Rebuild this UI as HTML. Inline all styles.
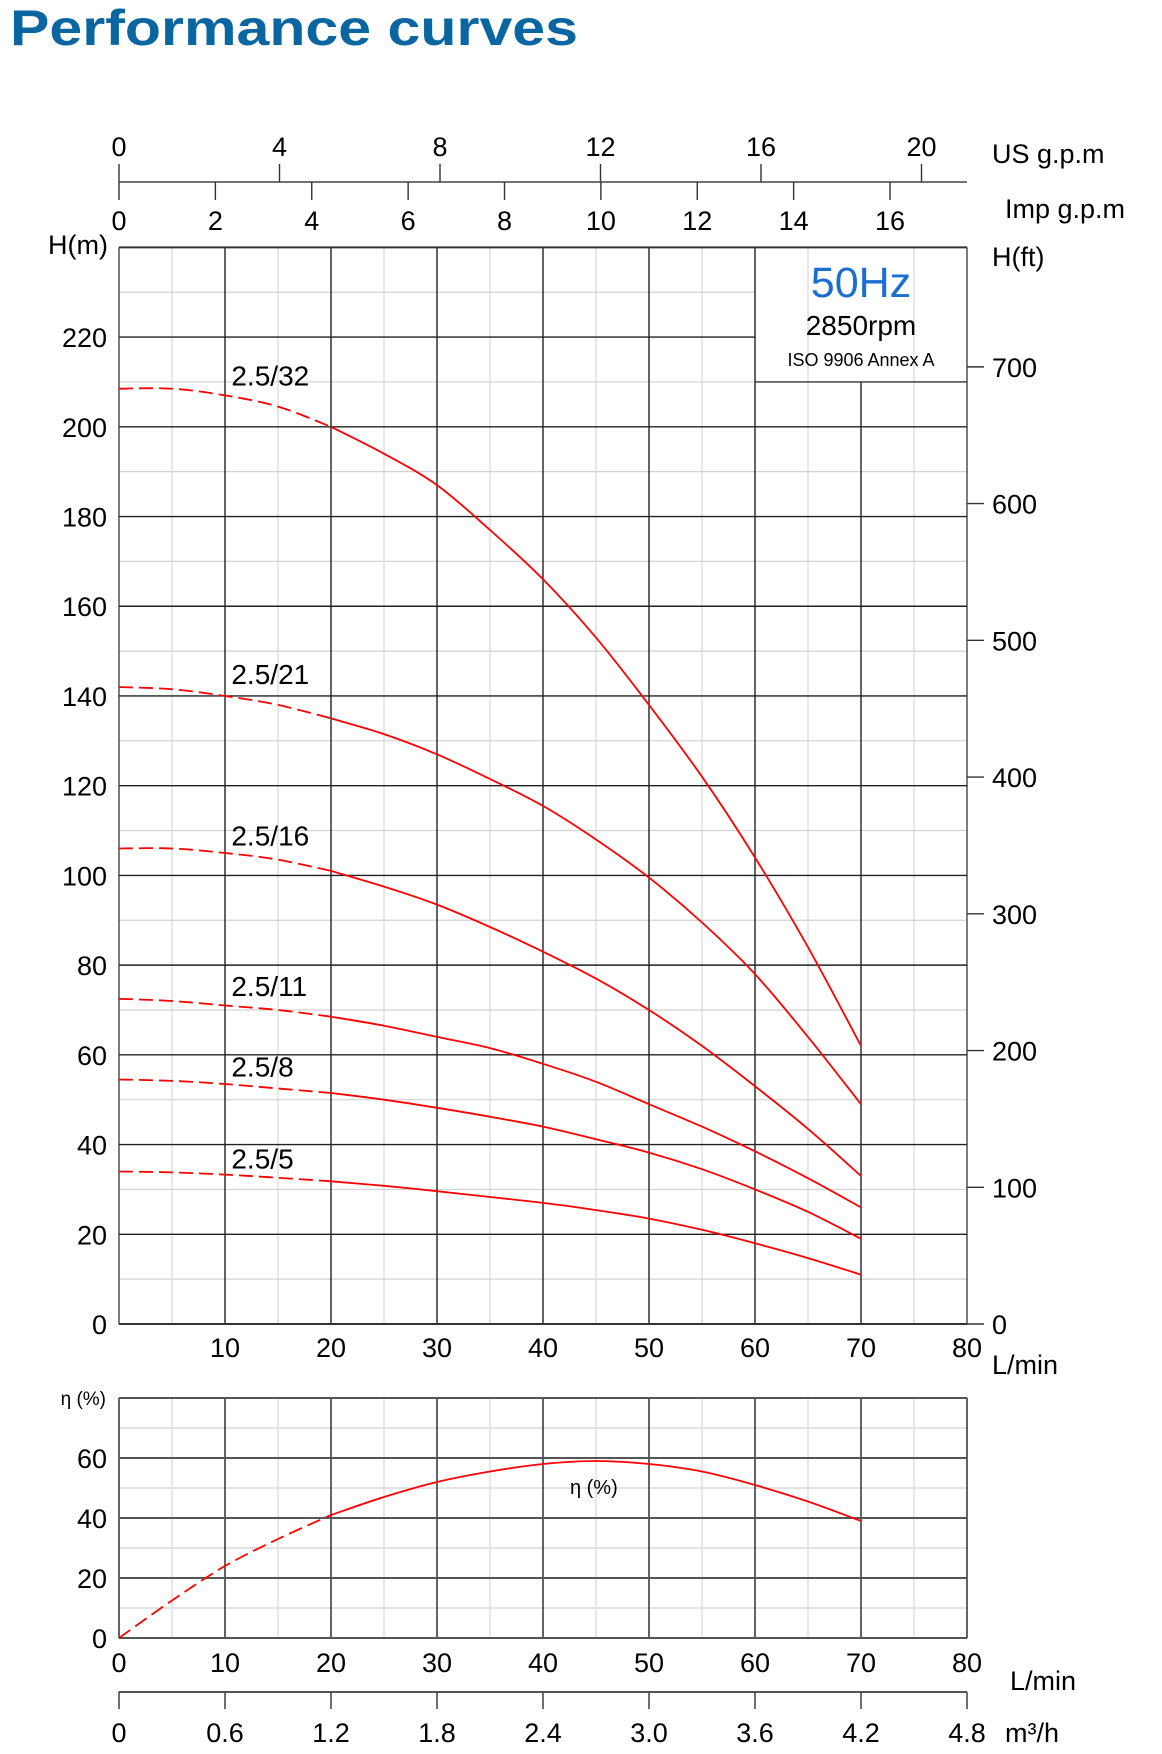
<!DOCTYPE html>
<html><head><meta charset="utf-8">
<style>
html,body{margin:0;padding:0;background:#fff;}
svg{display:block;font-family:"Liberation Sans",Arial,sans-serif;}
</style></head>
<body>
<svg id="chart" width="1162" height="1754" viewBox="0 0 1162 1754" xmlns="http://www.w3.org/2000/svg">
<text x="10" y="45" font-size="50" font-weight="bold" fill="#0a66a0" textLength="568" lengthAdjust="spacingAndGlyphs">Performance curves</text>
<g id="g"></g>
</svg>
<script>
const flowTicks=[0,10,20,30,40,50,60,70,80];
const headTicks=[0,20,40,60,80,100,120,140,160,180,200,220];
const ftTicks=[0,100,200,300,400,500,600,700];
const usTicks=[0,4,8,12,16,20];
const impTicks=[0,2,4,6,8,10,12,14,16];
const effTicks=[0,20,40,60];
const m3hTicks=["0","0.6","1.2","1.8","2.4","3.0","3.6","4.2","4.8"];
const flows=[0,5,10,15,20,25,30,35,40,45,50,55,60,65,70];
const curveNames=["2.5/32","2.5/21","2.5/16","2.5/11","2.5/8","2.5/5"];
const h32=[208.5,208.5,207,204.5,200,194,187,177,166,153,138,122,104,84,62];
const h21=[142,141.5,140,138,135,131.5,127,121.5,115.5,108,99.5,89.5,78,64,49];
const h16=[106,106,105,103.5,101,97.5,93.5,88.5,83,77,70,62,53,43.5,33];
const h11=[72.5,72,71,70,68.5,66.5,64,61.5,58,54,49,44,38.5,32.5,26];
const h8=[54.5,54.2,53.5,52.5,51.5,50,48.2,46.2,44,41.2,38.2,34.5,30,25,19];
const h5=[34,33.8,33.3,32.6,31.8,30.8,29.6,28.3,27,25.4,23.5,21,18,14.7,11];
const eff=[0,12.5,24,33,41,47,52,55.5,58,59,58,55.5,51,45.5,39];
const dashUntil=20;

const NS="http://www.w3.org/2000/svg";
const g=document.getElementById('g');
const X0=119,PX=10.6;
const xs=q=>X0+q*PX;
const Y0=1324,PY=4.486;
const ys=h=>Y0-h*PY;
const EY0=1638,EPY=3;
const ye=e=>EY0-e*EPY;
const FS=27;
function mk(t,a,txt){const e=document.createElementNS(NS,t);for(const k in a)e.setAttribute(k,a[k]);if(txt!==undefined)e.textContent=txt;g.appendChild(e);return e;}
function line(x1,y1,x2,y2,s,w,name){const e=mk('line',{x1,y1,x2,y2,stroke:s,'stroke-width':w});

return e;}
function txt(x,y,t,size,anchor,name,fill){const e=mk('text',{x,y,'font-size':size,'text-anchor':anchor||'middle',fill:fill||'#000'},t);

return e;}

for(let q=5;q<80;q+=10)line(xs(q),ys(240),xs(q),Y0,'#cfcfcf',1,'minor-gridline-x');
for(let h=10;h<240;h+=20){const x2=h>=210?xs(60):xs(80);line(X0,ys(h),x2,ys(h),'#d2d2d2',1.2,'minor-gridline-y');}
for(let q=65;q<80;q+=10)line(xs(q),ys(210),xs(q),Y0,'#cfcfcf',1,'minor-gridline-x');
for(const q of flowTicks){const top=(q>60&&q<80)?ys(210):ys(240);line(xs(q),top,xs(q),Y0,q==0||q==80?'#444':'#222',1.4,'major-gridline-x');}
for(const h of headTicks){const x2=h>=210?xs(60):xs(80);line(X0,ys(h),x2,ys(h),'#222',1.4,'major-gridline-y');}
line(X0,ys(240),xs(80),ys(240),'#333',2,'plot-top-border');
line(xs(60),ys(210),xs(80),ys(210),'#333',1.4,'info-box-bottom');
line(X0,Y0,xs(80),Y0,'#333',2,'x-axis-line');
txt(xs(70),297,'50Hz',43,'middle','frequency-label','#1a6fd0');
txt(xs(70),335,'2850rpm',28,'middle','speed-label');
txt(xs(70),366,'ISO 9906 Annex A',18,'middle','standard-label');
for(const h of headTicks)txt(107,ys(h)+10,String(h),FS,'end','y-tick-label');
txt(108,254,'H(m)',FS,'end','y-axis-title');
for(const f of ftTicks){const y=ys(f*0.3048);line(xs(80),y,xs(80)+17,y,'#333',1.4,'ft-tick');txt(992,y+10,String(f),FS,'start','ft-tick-label');}
txt(992,266,'H(ft)',FS,'start','ft-axis-title');
for(const q of flowTicks.slice(1))txt(xs(q),1357,String(q),FS,'middle','x-tick-label');
txt(992,1374,'L/min',FS,'start','x-axis-title');
line(X0,182,xs(80),182,'#444',1.6,'top-axis-line');
for(const u of usTicks){const x=xs(u*3.78541);line(x,164,x,182,'#333',1.4,'us-gpm-tick');txt(x,156,String(u),FS,'middle','us-gpm-tick-label');}
for(const i of impTicks){const x=xs(i*4.54609);line(x,182,x,200,'#333',1.4,'imp-gpm-tick');txt(x,230,String(i),FS,'middle','imp-gpm-tick-label');}
txt(992,163,'US g.p.m',FS,'start','us-gpm-title');
txt(1005,218,'Imp g.p.m',FS,'start','imp-gpm-title');
function smooth(pts){
  let d='M'+pts[0][0].toFixed(1)+','+pts[0][1].toFixed(1);
  for(let i=0;i<pts.length-1;i++){
    const p0=pts[i-1]||pts[i],p1=pts[i],p2=pts[i+1],p3=pts[i+2]||p2;
    const c1=[p1[0]+(p2[0]-p0[0])/6,p1[1]+(p2[1]-p0[1])/6];
    const c2=[p2[0]-(p3[0]-p1[0])/6,p2[1]-(p3[1]-p1[1])/6];
    d+=' C'+c1.map(v=>v.toFixed(1)).join(',')+' '+c2.map(v=>v.toFixed(1)).join(',')+' '+p2.map(v=>v.toFixed(1)).join(',');
  }
  return d;
}
function drawCurve(vals,yf,name){
  const dpts=[],spts=[];
  flows.forEach((q,i)=>{const p=[xs(q),yf(vals[i])];
    if(q<=dashUntil)dpts.push(p);
    if(q>=dashUntil)spts.push(p);});
  const a=mk('path',{d:smooth(dpts),fill:'none',stroke:'#f00','stroke-width':1.8,'stroke-dasharray':'14,6'});
  
  
  const b=mk('path',{d:smooth(spts),fill:'none',stroke:'#f00','stroke-width':1.8});
  
  
}
const series=[h32,h21,h16,h11,h8,h5];
series.forEach((s,k)=>{drawCurve(s,ys,'curve-'+curveNames[k].replace(/[./]/g,'-'));
  txt(xs(10.6),ys(s[0])-3,curveNames[k],28,'start','curve-label');});
for(let q=5;q<80;q+=10)line(xs(q),ye(80),xs(q),EY0,'#cfcfcf',1,'eff-minor-gridline-x');
for(let e=10;e<80;e+=20)line(X0,ye(e),xs(80),ye(e),'#e3e3e3',2,'eff-minor-gridline-y');
for(const q of flowTicks)line(xs(q),ye(80),xs(q),EY0,'#222',1.4,'eff-major-gridline-x');
for(const e of [0,20,40,60,80])line(X0,ye(e),xs(80),ye(e),'#555',2,'eff-major-gridline-y');
for(const e of effTicks)txt(107,ye(e)+10,String(e),FS,'end','eff-tick-label');
txt(106,1405,'η (%)',19,'end','eff-axis-title');
drawCurve(eff,ye,'efficiency-curve');
txt(xs(44.8),1494,'η (%)',20,'middle','efficiency-label');
for(const q of flowTicks)txt(xs(q),1672,String(q),FS,'middle','eff-x-tick-label');
txt(1010,1690,'L/min',FS,'start','eff-x-axis-title');
line(X0,1692,xs(80),1692,'#555',2,'m3h-axis-line');
m3hTicks.forEach((t,i)=>{const x=xs(i*10);line(x,1692,x,1709,'#333',1.4,'m3h-tick');txt(x,1742,t,FS,'middle','m3h-tick-label');});
txt(1005,1742,'m³/h',FS,'start','m3h-axis-title');
</script>
</body></html>
